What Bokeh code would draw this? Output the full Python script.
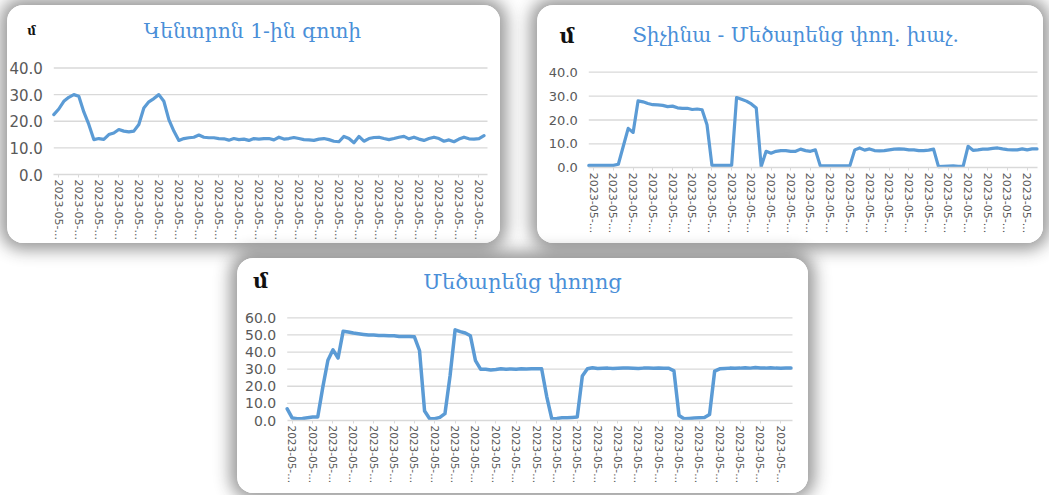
from bokeh.plotting import figure
from bokeh.models import Range1d, FixedTicker, NumeralTickFormatter, ColumnDataSource
from bokeh.core.properties import value
from bokeh.layouts import column, row
from bokeh.embed import file_html
from bokeh.resources import INLINE

# ---------------- data ----------------
title_center = "Կենտրոն 1-ին գոտի"
title_tichina = "Տիչինա - Մեծարենց փող. խաչ."
title_metsarents = "Մեծարենց փողոց"
unit_text = "մ"
date_label = "2023-05-..."

center_zone = [22.5, 24.6, 27.5, 29.0, 30.0, 29.4, 23.5, 18.8, 13.1, 13.5,
               13.2, 15.0, 15.6, 16.9, 16.3, 16.0, 16.3, 18.8, 25.0, 27.3,
               28.5, 30.0, 27.5, 20.6, 16.3, 12.8, 13.5, 13.8, 14.0, 14.8,
               14.0, 13.8, 13.8, 13.5, 13.4, 12.9, 13.5, 13.1, 13.3, 12.8,
               13.5, 13.3, 13.5, 13.5, 13.0, 14.0, 13.3, 13.5, 13.9, 13.5,
               13.1, 13.0, 12.8, 13.3, 13.5, 13.1, 12.5, 12.3, 14.3, 13.5,
               11.9, 14.3, 12.5, 13.5, 13.9, 14.0, 13.5, 13.1, 13.5, 14.0,
               14.3, 13.4, 14.0, 13.3, 12.8, 13.5, 14.0, 13.5, 12.5, 13.0,
               12.3, 13.3, 14.0, 13.4, 13.3, 13.5, 14.6]

tichina_cross = [1.0, 1.0, 1.0, 1.0, 1.0, 1.0, 1.5, 9.0, 16.5, 14.8,
                 28.0, 27.6, 26.9, 26.4, 26.3, 26.1, 25.6, 25.8, 25.1, 24.9,
                 24.9, 24.4, 24.6, 24.3, 18.0, 1.0, 1.0, 1.0, 1.0, 1.0,
                 29.4, 28.7, 27.9, 26.7, 25.0, 0.5, 6.9, 6.1, 6.9, 7.2,
                 7.2, 6.9, 6.9, 7.8, 7.2, 6.9, 7.5, 0.8, 0.8, 0.8,
                 0.8, 0.8, 0.8, 0.8, 7.5, 8.3, 7.4, 7.9, 7.2, 7.1,
                 7.2, 7.5, 7.8, 7.9, 7.8, 7.5, 7.5, 7.2, 7.2, 7.4,
                 7.8, 0.5, 0.6, 0.7, 0.8, 0.6, 0.6, 9.0, 7.3, 7.5,
                 7.8, 7.8, 8.1, 8.3, 7.9, 7.6, 7.5, 7.5, 7.9, 7.5,
                 7.9, 7.9]

metsarents_street = [6.8, 1.4, 1.0, 1.2, 1.6, 2.0, 2.0, 19.5, 35.2, 41.3,
                     36.5, 52.2, 51.7, 51.1, 50.7, 50.3, 49.9, 49.9, 49.7, 49.7,
                     49.5, 49.5, 49.1, 49.1, 49.1, 48.9, 40.9, 5.5, 1.0, 1.0,
                     1.8, 4.0, 26.0, 53.0, 51.9, 51.1, 49.5, 35.0, 30.0, 30.0,
                     29.5, 29.8, 30.2, 30.0, 30.1, 30.0, 30.2, 30.1, 30.2, 30.2,
                     30.2, 14.0, 1.0, 1.2, 1.6, 1.6, 1.8, 2.0, 26.0, 30.2,
                     30.8, 30.4, 30.5, 30.6, 30.4, 30.5, 30.6, 30.6, 30.5, 30.4,
                     30.6, 30.6, 30.5, 30.6, 30.5, 30.5, 29.0, 2.9, 1.0, 1.2,
                     1.4, 1.6, 1.8, 3.5, 28.8, 30.2, 30.4, 30.6, 30.5, 30.6,
                     30.8, 30.6, 30.9, 30.7, 30.6, 30.8, 30.6, 30.5, 30.6, 30.6]

y_max = [40, 40, 60]

# ---------------- styling ----------------
LINE = "#5b9bd5"
TITLE_COL = "#4a8fd8"
GRID = "#d9d9d9"
LABEL = "#595959"

PANEL_STYLE = {
    "border-radius": "16px",
    "overflow": "hidden",
    "box-shadow": "0 0 16px 7px rgba(30,30,30,0.45)",
    "background-color": "white",
}


def make_panel(values, title, ymax, g):
    n = len(values)
    xs = list(range(n))
    x_end = n - 1 + g["pad"]
    # pixel geometry (relative to the panel's top-left corner); the frame fills the panel
    xpx = (g["dr"] - g["dl"]) / x_end          # pixels per x unit
    ppu = (g["zero"] - g["top"]) / ymax        # pixels per y unit
    x_lo = -g["dl"] / xpx
    x_hi = x_end + (g["w"] - g["dr"]) / xpx
    y_lo = -(g["h"] - g["zero"]) / ppu
    y_hi = g["zero"] / ppu

    p = figure(width=g["w"], height=g["h"], output_backend="svg", toolbar_location=None,
               x_range=Range1d(x_lo, x_hi), y_range=Range1d(y_lo, y_hi),
               x_axis_label=None, y_axis_label=None,
               min_border_left=0, min_border_right=0, min_border_top=0, min_border_bottom=0)
    p.styles = PANEL_STYLE
    p.outline_line_color = None
    p.background_fill_color = "white"
    p.border_fill_color = "white"

    # horizontal grid lines at the y ticks, spanning the data width only
    yticks = list(range(10, ymax + 1, 10))
    p.segment(x0=[0] * len(yticks), x1=[x_end] * len(yticks), y0=yticks, y1=yticks,
              line_color=GRID, line_width=1.3)
    p.xgrid.grid_line_color = None
    p.ygrid.grid_line_color = None

    p.line(xs, values, line_color=LINE, line_width=g["lw"], line_join="round", line_cap="round")

    # title and unit
    src = ColumnDataSource(dict(x=[(g["tx"] - g["dl"]) / xpx], y=[(g["zero"] - g["ty"]) / ppu], t=[title]))
    p.text(x="x", y="y", text="t", source=src, text_align="center", text_baseline="middle",
           text_font=value("DejaVu Serif"), text_font_size=g["tfs"], text_color=TITLE_COL)
    usrc = ColumnDataSource(dict(x=[(g["ux"] - g["dl"]) / xpx], y=[(g["zero"] - g["uy"]) / ppu], t=[unit_text]))
    p.text(x="x", y="y", text="t", source=usrc, text_align="center", text_baseline="middle",
           text_font=value("DejaVu Serif"), text_font_size=g["ufs"], text_color="#111111",
           text_font_style="bold")

    # y axis placed at the start of the data
    p.yaxis.fixed_location = 0
    p.yaxis.bounds = (0, ymax)
    p.yaxis.ticker = FixedTicker(ticks=list(range(0, ymax + 1, 10)))
    p.yaxis.formatter = NumeralTickFormatter(format="0.0")
    p.yaxis.axis_line_color = None
    p.yaxis.major_tick_line_color = None
    p.yaxis.minor_tick_line_color = None
    p.yaxis.major_label_text_font = "DejaVu Sans"
    p.yaxis.major_label_text_font_size = g["yfs"]
    p.yaxis.major_label_text_color = LABEL
    p.yaxis.major_label_standoff = 5

    # x axis at value 0 (category dates, every 4th point labelled)
    ticks = list(range(1, n, 4))
    p.xaxis.fixed_location = 0
    p.xaxis.ticker = FixedTicker(ticks=ticks)
    p.xaxis.bounds = (0, x_end)
    p.xaxis.major_label_overrides = {t: date_label for t in ticks}
    p.xaxis.major_label_orientation = "vertical"
    p.xaxis.axis_line_color = GRID
    p.xaxis.axis_line_width = 1.3
    p.xaxis.major_tick_line_color = GRID
    p.xaxis.major_tick_in = 0
    p.xaxis.major_tick_out = 3
    p.xaxis.minor_tick_line_color = None
    p.xaxis.major_label_standoff = 2
    p.xaxis.major_label_text_font = "DejaVu Sans"
    p.xaxis.major_label_text_font_size = g["xfs"]
    p.xaxis.major_label_text_color = LABEL
    return p


# geometry in pixels relative to each panel's top-left corner
g1 = dict(w=493, h=238, dl=46.3, dr=480, top=62.5, zero=169, pad=0.7, lw=3.2,
          yfs="15px", xfs="11px", tx=245, ty=25, tfs="20.3px", ux=24, uy=25, ufs="12px")
g2 = dict(w=506, h=238, dl=51.3, dr=500, top=66.7, zero=162.3, pad=0.1, lw=3.2,
          yfs="13px", xfs="11px", tx=258, ty=29.5, tfs="20px", ux=29.5, uy=30, ufs="21px")
g3 = dict(w=571, h=235, dl=49.7, dr=555, top=59.3, zero=162, pad=0.3, lw=3.5,
          yfs="14px", xfs="10.5px", tx=285, ty=23, tfs="21px", ux=23, uy=22, ufs="21px")

p1 = make_panel(center_zone, title_center, y_max[0], g1)
p2 = make_panel(tichina_cross, title_tichina, y_max[1], g2)
p3 = make_panel(metsarents_street, title_metsarents, y_max[2], g3)

p1.margin = (5, 0, 0, 7)
p2.margin = (5, 0, 0, 37)
p3.margin = (15, 0, 0, 237)

layout = column(row(p1, p2), p3)
open("out.html", "w").write(file_html(layout, INLINE))
